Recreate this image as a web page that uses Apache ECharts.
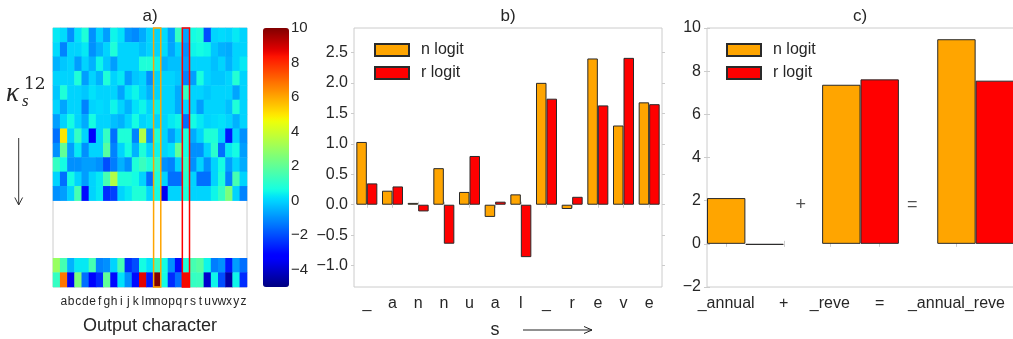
<!DOCTYPE html>
<html>
<head>
<meta charset="utf-8">
<script src="https://cdn.jsdelivr.net/npm/echarts@6/dist/echarts.min.js"></script>
<style>
  html, body { margin: 0; padding: 0; background: #fff; }
  #main { width: 1013px; height: 339px; }
</style>
</head>
<body>
<div id="main"></div>
<script>
// ---- a) heatmap: kappa_s^12 per output character ----
var hmCols = ['', 'a', 'b', 'c', 'd', 'e', 'f', 'g', 'h', 'i', 'j', 'k', 'l', 'm',
  'n', 'o', 'p', 'q', 'r', 's', 't', 'u', 'v', 'w', 'x', 'y', 'z'];
var hmRowCount = 18;
var hmRowPos = [0, 1, 2, 3, 4, 5, 6, 7, 8, 9, 10, 11, 16, 17];
var hmValues = [
  [0.3, 0.1, -1, 0.2, 0.8, -1, 0, -0.8, 0.5, 0.2, -0.9, -1.1, -0.6, 0, 0, 0.1, -0.8, 1.2, -0.7, 0.6, 0.8, -2, 0, 0.1, 0, 0.3, 0],
  [0.1, -1.2, 0, 0, 0.3, -1, -0.5, 0, 0.8, 0, 0, 0, -0.3, 0, 0, 0.1, -0.7, 0, -1, 0.5, 0.6, 0.5, -0.2, -0.5, -0.6, 0, 0],
  [-0.5, -0.2, 0, -0.8, 0, -0.5, 0.5, -0.2, -0.8, 0, 0, 0, 0.8, 0.8, 0.5, -0.5, -0.3, -0.3, -0.8, 0, 0, 0, -0.3, 0, -0.5, 0, 0.3],
  [0, 0, 0, 0.8, -0.8, 0, -0.5, 0.8, 0, 0.3, -0.8, -0.2, 0, -1, 0, 0, 0, -0.2, -1.2, -0.8, 0.7, 0, -0.2, -0.2, 0, 0.9, 0],
  [-0.2, 0.8, 0, 0, -0.2, 0.2, 0, 0, 0, -0.7, 0.2, 0.5, 0, -0.5, 0, 0, 0, -0.6, 1.2, 0, 0, -0.2, 0, 0, 0, -0.7, 0],
  [0, -0.7, 0, 0, -1.2, 0, 0.1, 0, 0.5, 0, -0.5, 0.2, 0.5, 0, 0.4, 0, 0, -0.6, 0, 0, -0.8, 0, 0, 0, -0.3, 0.8, 0],
  [-0.8, 0, 0.6, 0, -0.6, 0.6, 0, 0, -0.3, -0.5, 0, 0.6, 0, 0.2, 0, 0, 0.3, 0.5, -1.5, 0.6, 0.3, 0, 0.1, 0.2, 0, -0.5, 0],
  [-1.5, 5, 0, 1.2, 0, -3.3, 0, 1.2, -1.5, 0.8, 0.8, -1.2, 3.5, -1, 0.8, 0, -0.8, 0, 0.8, -0.6, 0, 0.8, 0.8, 0, -2.8, 0, -1],
  [-1, 2, -0.8, 0.3, -1, 0, 0, 1.8, -1.2, 0, 0.6, -0.5, 0.8, 0, 0.5, 0, 0.2, 2, 0.7, -1, -1, 0, 1, -1.5, 0.3, 0.6, -0.8],
  [1.2, 0.6, -1, -1, -0.8, -0.8, -1, -2, -1.3, -0.5, -1, 0.8, 1.3, 0.8, 1.2, -1, -1.2, 0, 1.2, -1, 0, -1, 0, 0.6, -0.8, 0, -0.6],
  [0, -1.5, 0.6, 0, -0.8, 0, 0.3, 1.5, 3.5, 0.8, 0.8, 0.6, 0, -1.5, 0.8, 0, -1.5, -1.5, 1, 0, -1.5, -1.5, 0, 0.8, -1.2, 1.5, 0],
  [-1, -0.8, 0, 1.5, -3, 0, 0.3, -2.5, -2.2, 0, 0.3, 0.8, 0.8, 0, 0.6, -3.5, 0, 0, 0.8, 0, 0, 0, 0.5, 1.2, 2.5, 0, -1.2],
  [3, 1.5, -0.5, 0.3, 0.3, 1.5, -1.2, -1, 0, 1.5, -2.5, -2, 0.6, 0.2, 1.3, 0.6, -1, -3, 0.8, 1.5, 1.8, 0.5, -1.3, -1, -2.8, -0.8, -1.5],
  [1.2, 6.8, -3.5, 2.5, -1.5, -3.3, -2.5, 2, -3, 0.2, -1, -3, 8.7, -2.8, 10, 0.6, -2.5, -1.5, 8.5, 1.2, 1.3, -4, 0.5, -2, -4.5, 0.5, -2.5]
];
var cbMin = -5, cbMax = 10;
var cbTicks = [-4, -2, 0, 2, 4, 6, 8, 10];
var hlN = 14, hlR = 18; // highlighted columns 'n' and 'r'

// ---- b) logits per input position ----
var bCats = ['_', 'a', 'n', 'n', 'u', 'a', 'l', '_', 'r', 'e', 'v', 'e'];
var bN = [1.03, 0.23, 0.03, 0.6, 0.21, -0.2, 0.17, 2.0, -0.07, 2.4, 1.3, 1.68];
var bR = [0.35, 0.3, -0.11, -0.64, 0.8, 0.05, -0.86, 1.74, 0.13, 1.63, 2.41, 1.65];
var bTicks = [-1, -0.5, 0, 0.5, 1, 1.5, 2, 2.5];

// ---- c) summed logits ----
var cN = [2.12, 7.37, 9.48];
var cR = [-0.05, 7.62, 7.56];
var cTickPos = [0.5, 2, 3.2, 4.5, 6.5];
var cTickLabels = ['_annual', '+', '_reve', '=', '_annual_reve'];
var cOps = [[2.44, 1.8], [5.35, 1.8]];
var cOpsText = ['+', '='];

var FONT = 'Liberation Sans, Arial, sans-serif';
var TXT = '#262626';
var FRAME = '#cccccc';
var ORANGE = '#FFA500';
var RED = '#FF0000';

function minus(v) { return String(v).replace('-', '\u2212'); }

// matplotlib jet colormap
function jet(t) {
  function lin(pts) {
    for (var i = 1; i < pts.length; i++) {
      if (t <= pts[i][0]) {
        var a = pts[i - 1], b = pts[i];
        return a[1] + (b[1] - a[1]) * (t - a[0]) / (b[0] - a[0]);
      }
    }
    return pts[pts.length - 1][1];
  }
  var r = lin([[0, 0], [0.35, 0], [0.66, 1], [0.89, 1], [1, 0.5]]);
  var g = lin([[0, 0], [0.125, 0], [0.375, 1], [0.64, 1], [0.91, 0], [1, 0]]);
  var b = lin([[0, 0.5], [0.11, 1], [0.34, 1], [0.65, 0], [1, 0]]);
  return 'rgb(' + Math.round(r * 255) + ',' + Math.round(g * 255) + ',' + Math.round(b * 255) + ')';
}
var jetColors = [];
for (var k = 0; k <= 64; k++) jetColors.push(jet(k / 64));

var hmData = [];
hmValues.forEach(function (row, i) {
  row.forEach(function (v, j) { hmData.push([j, hmRowPos[i], v]); });
});
var hmRows = [];
for (var r = 0; r < hmRowCount; r++) hmRows.push(String(r));

// c bars sit in slots: n, r, gap, n, r, gap, n, r
var cSlots = ['0', '1', '2', '3', '4', '5', '6', '7'];
var cNSlots = [], cRSlots = [];
cSlots.forEach(function () { cNSlots.push(null); cRSlots.push(null); });
cN.forEach(function (v, i) { cNSlots[i * 3] = v; });
cR.forEach(function (v, i) { cRSlots[i * 3 + 1] = v; });

var tick = { show: true, inside: false, length: 3, lineStyle: { color: FRAME, width: 1 } };
var lbl = { color: TXT, fontSize: 16, fontFamily: FONT };
var legendText = { color: TXT, fontSize: 16, fontFamily: FONT, lineHeight: 12, padding: [0, 0, 0, 7] };

var chart = echarts.init(document.getElementById('main'));
chart.setOption({
  animation: false,
  backgroundColor: '#fff',
  textStyle: { fontFamily: FONT },
  grid: [
    { left: 53, top: 28, width: 194, height: 259, show: true, borderColor: FRAME, borderWidth: 1, outerBoundsMode: 'none' },
    { left: 263, top: 28, width: 26, height: 259, outerBoundsMode: 'none' },
    { left: 354, top: 28, width: 308, height: 259, show: true, borderColor: FRAME, borderWidth: 1, outerBoundsMode: 'none' },
    { left: 707, top: 28, width: 307, height: 259, show: true, borderColor: FRAME, borderWidth: 1, outerBoundsMode: 'none' }
  ],
  xAxis: [
    // 0 heatmap columns
    { type: 'category', gridIndex: 0, data: hmCols, position: 'bottom',
      axisLine: { show: false }, axisTick: Object.assign({ alignWithLabel: true, interval: 0 }, tick),
      axisLabel: { interval: 0, hideOverlap: false, color: TXT, fontSize: 12, fontFamily: FONT, margin: 9 },
      name: 'Output character', nameLocation: 'middle', nameGap: 30,
      nameTextStyle: { color: TXT, fontSize: 18, fontFamily: FONT } },
    // 1 heatmap overlay (highlight boxes)
    { type: 'value', gridIndex: 0, min: 0, max: hmCols.length, show: false },
    // 2 colorbar
    { type: 'value', gridIndex: 1, show: false },
    // 3 b bottom
    { type: 'category', gridIndex: 2, data: bCats, position: 'bottom',
      axisLine: { show: false }, axisTick: Object.assign({ alignWithLabel: true }, tick),
      axisLabel: Object.assign({ interval: 0, margin: 9 }, lbl) },
    // 4 b top
    { type: 'category', gridIndex: 2, data: bCats, position: 'top',
      axisLine: { show: false }, axisTick: Object.assign({ alignWithLabel: true }, tick),
      axisLabel: { show: false } },
    // 5 c bottom labels
    { type: 'value', gridIndex: 3, min: 0, max: cSlots.length, position: 'bottom',
      splitLine: { show: false }, axisLine: { show: false },
      axisTick: Object.assign({ customValues: cTickPos }, tick),
      axisLabel: Object.assign({ customValues: cTickPos, margin: 9,
        formatter: function (v) { return cTickLabels[cTickPos.indexOf(v)]; } }, lbl) },
    // 6 c top ticks
    { type: 'value', gridIndex: 3, min: 0, max: cSlots.length, position: 'top',
      splitLine: { show: false }, axisLine: { show: false },
      axisTick: Object.assign({ customValues: cTickPos }, tick), axisLabel: { show: false } },
    // 7 c bar slots
    { type: 'category', gridIndex: 3, data: cSlots, show: false }
  ],
  yAxis: [
    // 0 heatmap rows
    { type: 'category', gridIndex: 0, data: hmRows, inverse: true,
      axisLine: { show: false }, axisTick: { show: false }, axisLabel: { show: false } },
    // 1 heatmap overlay
    { type: 'value', gridIndex: 0, min: 0, max: hmRowCount, inverse: true, show: false },
    // 2 colorbar labels
    { type: 'value', gridIndex: 1, min: cbMin, max: cbMax, position: 'right',
      splitLine: { show: false }, axisLine: { show: false }, axisTick: { show: false },
      axisLabel: { customValues: cbTicks, formatter: minus, margin: 2, color: TXT, fontSize: 15, fontFamily: FONT } },
    // 3 b left
    { type: 'value', gridIndex: 2, min: -1.35, max: 2.9, position: 'left',
      splitLine: { show: false }, axisLine: { show: false },
      axisTick: Object.assign({ customValues: bTicks }, tick),
      axisLabel: Object.assign({ customValues: bTicks, margin: 6,
        formatter: function (v) { return minus(v.toFixed(1)); } }, lbl) },
    // 4 b right
    { type: 'value', gridIndex: 2, min: -1.35, max: 2.9, position: 'right',
      splitLine: { show: false }, axisLine: { show: false },
      axisTick: Object.assign({ customValues: bTicks }, tick), axisLabel: { show: false } },
    // 5 c left
    { type: 'value', gridIndex: 3, min: -2, max: 10, interval: 2, position: 'left',
      splitLine: { show: false }, axisLine: { show: false }, axisTick: tick,
      axisLabel: Object.assign({ margin: 6, formatter: minus }, lbl) },
    // 6 c right
    { type: 'value', gridIndex: 3, min: -2, max: 10, interval: 2, position: 'right',
      splitLine: { show: false }, axisLine: { show: false }, axisTick: tick, axisLabel: { show: false } }
  ],
  visualMap: {
    type: 'continuous', seriesIndex: 0, min: cbMin, max: cbMax, calculable: false,
    orient: 'vertical', left: 263, top: 28, itemWidth: 26, itemHeight: 259,
    padding: 0, hoverLink: false, inRange: { color: jetColors }
  },
  legend: [
    { left: 369, top: 37, orient: 'vertical', icon: 'rect', itemWidth: 34, itemHeight: 12, itemGap: 7,
      selectedMode: false, data: ['n logit', 'r logit'], textStyle: legendText },
    { left: 721, top: 37, orient: 'vertical', icon: 'rect', itemWidth: 34, itemHeight: 12, itemGap: 7,
      selectedMode: false, data: ['n logit', 'r logit'], textStyle: legendText }
  ],
  series: [
    { type: 'heatmap', xAxisIndex: 0, yAxisIndex: 0, data: hmData, z: 1,
      itemStyle: { borderWidth: 0 }, emphasis: { disabled: true }, silent: true },
    { type: 'line', xAxisIndex: 1, yAxisIndex: 1, data: [], silent: true, z: 10,
      markArea: { silent: true, z: 10,
        itemStyle: { color: 'rgba(0,0,0,0)', borderColor: ORANGE, borderWidth: 1.5 },
        data: [[{ xAxis: hlN, yAxis: 0 }, { xAxis: hlN + 1, yAxis: hmRowCount }]] } },
    { type: 'line', xAxisIndex: 1, yAxisIndex: 1, data: [], silent: true, z: 10,
      markArea: { silent: true, z: 10,
        itemStyle: { color: 'rgba(0,0,0,0)', borderColor: RED, borderWidth: 1.5 },
        data: [[{ xAxis: hlR, yAxis: 0 }, { xAxis: hlR + 1, yAxis: hmRowCount }]] } },
    { name: 'n logit', type: 'bar', xAxisIndex: 3, yAxisIndex: 3, data: bN, barWidth: 10.5, barGap: '0%',
      itemStyle: { color: ORANGE, borderColor: '#2a2a2a', borderWidth: 1 } },
    { name: 'r logit', type: 'bar', xAxisIndex: 3, yAxisIndex: 3, data: bR, barWidth: 10.5, barGap: '0%',
      itemStyle: { color: RED, borderColor: '#2a2a2a', borderWidth: 1 } },
    { name: 'n logit', type: 'bar', xAxisIndex: 7, yAxisIndex: 5, data: cNSlots, barWidth: 38.4, barGap: '-100%',
      itemStyle: { color: ORANGE, borderColor: '#2a2a2a', borderWidth: 1 } },
    { name: 'r logit', type: 'bar', xAxisIndex: 7, yAxisIndex: 5, data: cRSlots, barWidth: 38.4, barGap: '-100%',
      itemStyle: { color: RED, borderColor: '#2a2a2a', borderWidth: 1 } },
    { type: 'scatter', xAxisIndex: 5, yAxisIndex: 5, data: cOps, symbolSize: 1, silent: true,
      itemStyle: { color: 'rgba(0,0,0,0)' },
      label: { show: true, position: 'inside', color: TXT, fontSize: 18, fontFamily: FONT,
        formatter: function (p) { return cOpsText[p.dataIndex]; } } }
  ],
  graphic: [
    { type: 'text', x: 150, y: 16, style: { text: 'a)', fontSize: 17, fontFamily: FONT, fill: TXT, align: 'center', verticalAlign: 'middle' } },
    { type: 'text', x: 508, y: 16, style: { text: 'b)', fontSize: 17, fontFamily: FONT, fill: TXT, align: 'center', verticalAlign: 'middle' } },
    { type: 'text', x: 860, y: 16, style: { text: 'c)', fontSize: 17, fontFamily: FONT, fill: TXT, align: 'center', verticalAlign: 'middle' } },
    { type: 'text', x: 6, y: 94, style: { text: '\u03ba', fontSize: 27, fontStyle: 'italic', fontFamily: 'Liberation Serif', fill: TXT, verticalAlign: 'middle' } },
    { type: 'text', x: 22, y: 102, style: { text: 's', fontSize: 17, fontStyle: 'italic', fontFamily: 'Liberation Serif', fill: TXT, verticalAlign: 'middle' } },
    { type: 'text', x: 24, y: 85, style: { text: '12', fontSize: 17, fontFamily: 'DejaVu Serif', fill: TXT, verticalAlign: 'middle' } },
    { type: 'line', shape: { x1: 18.7, y1: 138, x2: 18.7, y2: 205 }, style: { stroke: '#333', lineWidth: 1 } },
    { type: 'polyline', shape: { points: [[14.8, 197.5], [18.7, 205], [22.6, 197.5]] }, style: { stroke: '#333', lineWidth: 1, fill: null } },
    { type: 'text', x: 495, y: 330, style: { text: 's', fontSize: 18, fontFamily: FONT, fill: TXT, align: 'center', verticalAlign: 'middle' } },
    { type: 'line', shape: { x1: 523, y1: 330, x2: 592, y2: 330 }, style: { stroke: '#222', lineWidth: 1 } },
    { type: 'polyline', shape: { points: [[584, 326.5], [592, 330], [584, 333.5]] }, style: { stroke: '#222', lineWidth: 1, fill: null } }
  ]
});
</script>
</body>
</html>
